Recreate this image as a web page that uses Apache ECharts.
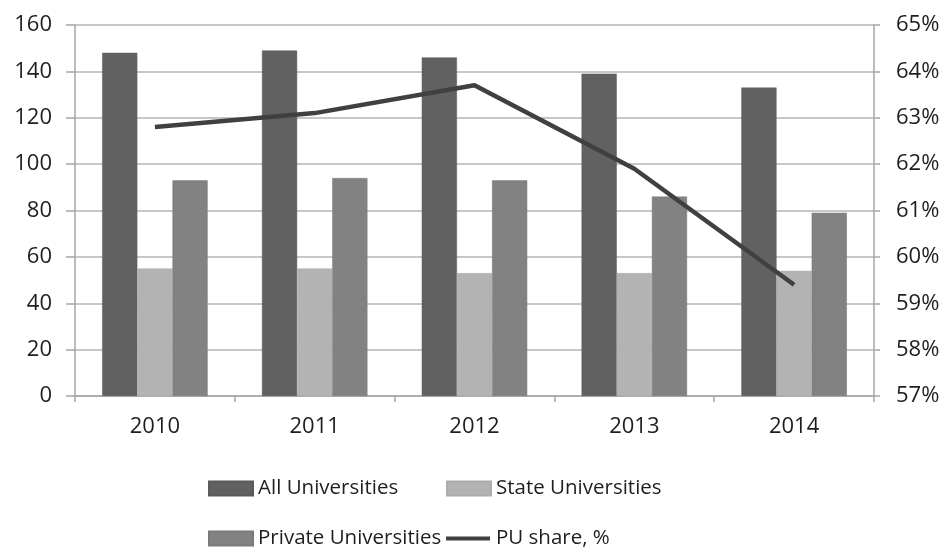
<!DOCTYPE html>
<html>
<head>
<meta charset="utf-8">
<script src="https://cdn.jsdelivr.net/npm/echarts@6/dist/echarts.min.js"></script>
<style>
html,body{margin:0;padding:0;background:#fff;}
#c{width:948px;height:547px;}
</style>
</head>
<body>
<div id="c"></div>
<script>
var years = ['2010','2011','2012','2013','2014'];
var allUniv = [148, 149, 146, 139, 133];
var stateUniv = [55, 55, 53, 53, 54];
var privateUniv = [93, 94, 93, 86, 79];
var puShare = [62.8, 63.1, 63.7, 61.9, 59.4];
var leftTicks = {min: 0, max: 160, interval: 20};
var rightTicks = {min: 57, max: 65, interval: 1};

var FONT = '"Open Sans"';
var txt = {color: '#1e1e1e', fontSize: 20.5, fontFamily: FONT};
var tickTxt = {color: '#1e1e1e', fontSize: 22, fontFamily: FONT};
var gridColor = '#b4b4b4';

function legendAt(name, left, top, icon) {
  return {
    data: [name], left: left, top: top, orient: 'horizontal',
    itemWidth: 44, itemHeight: 14, itemGap: 4, padding: 0,
    icon: icon, textStyle: txt, selectedMode: false
  };
}

var chart = echarts.init(document.getElementById('c'));
chart.setOption({
  animation: false,
  backgroundColor: '#fff',
  grid: {left: 75, right: 74, top: 25, bottom: 151},
  legend: [
    legendAt('All Universities', 208, 478, 'rect'),
    legendAt('State Universities', 446, 478, 'rect'),
    legendAt('Private Universities', 208, 528, 'rect'),
    {
      data: [{name: 'PU share, %', icon: 'path://M0,0 L44,0 L44,4 L0,4 Z'}],
      left: 446, top: 528, itemWidth: 46, itemHeight: 4, padding: 0,
      textStyle: txt, selectedMode: false
    }
  ],
  xAxis: {
    type: 'category', data: years, boundaryGap: true,
    axisLine: {lineStyle: {color: '#a6a6a6', width: 1.5}},
    axisTick: {show: true, length: 6, lineStyle: {color: '#a6a6a6', width: 1.5}},
    axisLabel: Object.assign({margin: 20}, tickTxt),
    splitLine: {show: false}
  },
  yAxis: [
    {
      type: 'value', min: leftTicks.min, max: leftTicks.max, interval: leftTicks.interval,
      axisLine: {show: true, lineStyle: {color: '#a6a6a6', width: 1.5}},
      axisTick: {show: true, length: 9, lineStyle: {color: '#a6a6a6', width: 1.5}},
      axisLabel: Object.assign({margin: 23}, tickTxt),
      splitLine: {show: true, lineStyle: {color: gridColor, width: 1.5}}
    },
    {
      type: 'value', min: rightTicks.min, max: rightTicks.max, interval: rightTicks.interval,
      position: 'right',
      axisLine: {show: true, lineStyle: {color: '#a6a6a6', width: 1.5}},
      axisTick: {show: true, length: 6, lineStyle: {color: '#a6a6a6', width: 1.5}},
      axisLabel: Object.assign({margin: 22, formatter: '{value}%'}, tickTxt),
      splitLine: {show: false}
    }
  ],
  series: [
    {name: 'All Universities', type: 'bar', data: allUniv, barGap: '0%', barCategoryGap: '34%',
     itemStyle: {color: '#616161', borderColor: '#5a5a5a', borderWidth: 0.5}},
    {name: 'State Universities', type: 'bar', data: stateUniv, barGap: '0%', barCategoryGap: '34%',
     itemStyle: {color: '#b3b3b3', borderColor: '#acacac', borderWidth: 0.5}},
    {name: 'Private Universities', type: 'bar', data: privateUniv, barGap: '0%', barCategoryGap: '34%',
     itemStyle: {color: '#828282', borderColor: '#7a7a7a', borderWidth: 0.5}},
    {name: 'PU share, %', type: 'line', yAxisIndex: 1, data: puShare,
     symbol: 'none', lineStyle: {color: '#404040', width: 4.5}, itemStyle: {color: '#404040'},
     z: 5}
  ]
});
</script>
</body>
</html>
